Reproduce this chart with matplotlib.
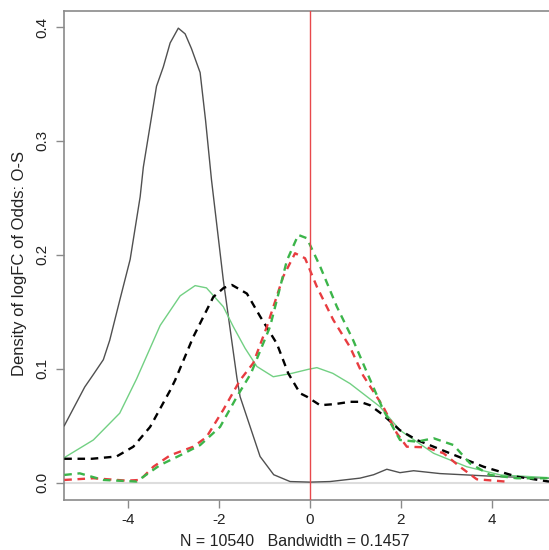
import matplotlib
matplotlib.use("Agg")
import matplotlib.pyplot as plt

plt.rcParams['font.family'] = ['Liberation Sans', 'DejaVu Sans']

# black solid density
blk_x = [-5.41, -4.96, -4.77, -4.55, -4.41, -4.19, -3.96, -3.74, -3.67, -3.38, -3.23, -3.08,
         -2.90, -2.75, -2.61, -2.42, -2.30, -2.17, -1.91, -1.61, -1.54, -1.10, -0.80, -0.44,
         0.0, 0.44, 1.10, 1.40, 1.69, 1.98, 2.28, 2.86, 3.45, 4.19, 5.26]
blk_y = [0.050, 0.084, 0.095, 0.108, 0.125, 0.160, 0.196, 0.251, 0.277, 0.348, 0.365, 0.386,
         0.399, 0.394, 0.381, 0.360, 0.318, 0.266, 0.178, 0.092, 0.0755, 0.023, 0.007, 0.001,
         0.0005, 0.001, 0.004, 0.007, 0.0118, 0.0088, 0.0105, 0.008, 0.0068, 0.0053, 0.004]

# green solid density
grn_x = [-5.41, -4.77, -4.19, -3.82, -3.30, -2.86, -2.53, -2.28, -1.91, -1.69, -1.43, -1.17,
         -0.81, -0.40, -0.04, 0.15, 0.50, 0.88, 1.54, 1.98, 2.72, 3.45, 4.19, 5.26]
grn_y = [0.022, 0.0375, 0.061, 0.091, 0.138, 0.164, 0.173, 0.171, 0.1545, 0.137, 0.118, 0.102,
         0.093, 0.096, 0.0995, 0.101, 0.096, 0.087, 0.0667, 0.046, 0.0258, 0.014, 0.0068, 0.0044]

# black dashed density
bkd_x = [-5.41, -4.8, -4.26, -3.89, -3.52, -3.08, -2.97, -2.57, -2.13, -1.90, -1.72, -1.39,
         -1.10, -0.73, -0.48, -0.22, -0.07, 0.22, 0.55, 0.88, 1.10, 1.32, 1.61, 1.98, 2.35,
         3.08, 3.82, 4.55, 5.26]
bkd_y = [0.021, 0.021, 0.023, 0.0316, 0.049, 0.081, 0.090, 0.128, 0.163, 0.171, 0.1736, 0.166,
         0.146, 0.122, 0.096, 0.0785, 0.0755, 0.068, 0.069, 0.071, 0.071, 0.068, 0.0594, 0.046,
         0.0375, 0.0258, 0.014, 0.0053, 0.001]

# red dashed density
red_x = [-5.41, -4.77, -4.04, -3.74, -3.45, -3.08, -2.57, -2.28, -1.91, -1.54, -1.25, -0.95,
         -0.59, -0.33, -0.11, 0.15, 0.51, 0.88, 1.17, 1.61, 1.91, 2.13, 2.57, 2.94, 3.30, 3.67,
         4.30]
red_y = [0.0024, 0.0039, 0.0018, 0.0024, 0.014, 0.024, 0.0316, 0.040, 0.064, 0.090, 0.105,
         0.137, 0.181, 0.2014, 0.197, 0.172, 0.143, 0.119, 0.094, 0.0667, 0.0434, 0.0316, 0.031,
         0.0258, 0.014, 0.003, 0.001]

# green dashed density
gnd_x = [-5.41, -5.07, -4.55, -3.82, -3.30, -2.86, -2.42, -1.98, -1.61, -1.30, -0.88, -0.51,
         -0.26, -0.07, 0.22, 0.59, 0.95, 1.25, 1.61, 1.98, 2.35, 2.72, 3.16, 3.52, 3.96, 4.55,
         5.26]
gnd_y = [0.0068, 0.0082, 0.0024, 0.001, 0.0155, 0.024, 0.033, 0.049, 0.0755, 0.096, 0.137,
         0.195, 0.2175, 0.2146, 0.190, 0.1545, 0.125, 0.097, 0.064, 0.0375, 0.036, 0.039, 0.033,
         0.017, 0.0068, 0.0039, 0.0039]

x_ticks = [-4, -2, 0, 2, 4]
y_ticks = [0.0, 0.1, 0.2, 0.3, 0.4]

fig = plt.figure(figsize=(5.49, 5.50), dpi=100)
ax = fig.add_axes([0.1171, 0.0909, 0.8829, 0.8896])

ax.axhline(0, color='#dddddd', lw=1.5, zorder=1)
ax.plot(blk_x, blk_y, color='#505050', lw=1.0, zorder=3)
ax.plot(grn_x, grn_y, color='#72d083', lw=1.0, zorder=3)
ax.plot(bkd_x, bkd_y, color='black', lw=1.7, dashes=(3.2, 2.4), zorder=4)
ax.plot(red_x, red_y, color='#e83c40', lw=1.7, dashes=(3.2, 2.4), zorder=4)
ax.plot(gnd_x, gnd_y, color='#3cb54a', lw=1.7, dashes=(3.2, 2.4), zorder=4)
ax.axvline(0, color='#e8484c', lw=1.0, zorder=5)

ax.set_xlim(-5.41, 5.26)
ax.set_ylim(-0.0152, 0.4143)
ax.set_xticks(x_ticks)
ax.set_xticklabels(['-4', '-2', '0', '2', '4'])
ax.set_yticks(y_ticks)
ax.set_yticklabels(['0.0', '0.1', '0.2', '0.3', '0.4'], rotation=90, va='center')

for s in ['left', 'bottom', 'top']:
    ax.spines[s].set_color('#8a8a8a')
    ax.spines[s].set_linewidth(1.2)
ax.spines['right'].set_visible(False)
ax.tick_params(axis='both', colors='#8a8a8a', labelcolor='#222222', length=6, width=1.0,
               labelsize=11)
ax.tick_params(axis='x', pad=3)
ax.tick_params(axis='y', pad=5)

fig.text(294.5 / 549, 1 - 541.7 / 550, "N = 10540   Bandwidth = 0.1457", ha='center',
         va='center', fontsize=11.5, color='#222222')
fig.text(20 / 549, 1 - 264 / 550, "Density of logFC of Odds: O-S", ha='center', va='center',
         rotation=90, fontsize=12, color='#222222')

fig.savefig("out.png", dpi=100)
